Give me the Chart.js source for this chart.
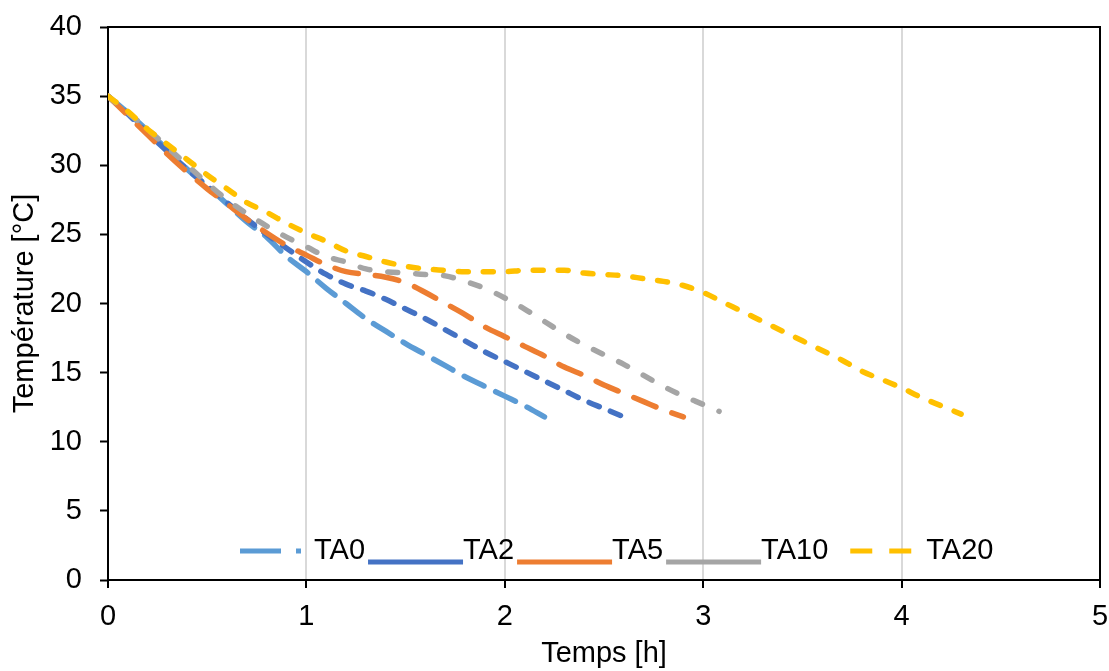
<!DOCTYPE html>
<html>
<head>
<meta charset="utf-8">
<script src="https://cdn.jsdelivr.net/npm/chart.js@4/dist/chart.umd.min.js"></script>
<style>
  html, body { margin: 0; padding: 0; background: #ffffff; }
  #wrap { width: 1109px; height: 671px; position: relative; }
</style>
</head>
<body>
<div id="wrap"><canvas id="c" width="1109" height="671"></canvas></div>
<script>
// ---- Data ----
const seriesNames = ["TA0", "TA2", "TA5", "TA10", "TA20"];

const timeTA0 = [0, 0.1, 0.2, 0.3, 0.4, 0.5, 0.6, 0.7, 0.8, 0.9, 1.0, 1.1, 1.2, 1.3, 1.4, 1.5, 1.6, 1.7, 1.8, 1.9, 2.0, 2.1, 2.2];
const tempTA0 = [35, 33.8, 32.5, 31.1, 29.7, 28.5, 27.2, 25.9, 24.8, 23.4, 22.3, 21.1, 20.0, 18.9, 18.0, 17.1, 16.3, 15.5, 14.7, 14.0, 13.3, 12.6, 11.8];

const timeTA2 = [0, 0.1, 0.2, 0.3, 0.4, 0.5, 0.6, 0.7, 0.8, 0.9, 1.0, 1.1, 1.2, 1.3, 1.4, 1.5, 1.6, 1.7, 1.8, 1.9, 2.0, 2.1, 2.2, 2.3, 2.4, 2.5, 2.6];
const tempTA2 = [35, 33.7, 32.3, 31.0, 29.7, 28.5, 27.3, 26.1, 25.0, 24.0, 23.0, 22.1, 21.4, 20.9, 20.3, 19.6, 18.9, 18.1, 17.3, 16.5, 15.8, 15.1, 14.4, 13.7, 13.0, 12.4, 11.8];

const timeTA5 = [0, 0.1, 0.2, 0.3, 0.4, 0.5, 0.6, 0.7, 0.8, 0.9, 1.0, 1.1, 1.2, 1.3, 1.4, 1.5, 1.6, 1.7, 1.8, 1.9, 2.0, 2.1, 2.2, 2.3, 2.4, 2.5, 2.6, 2.7, 2.8, 2.9];
const tempTA5 = [35, 33.6, 32.2, 30.8, 29.5, 28.3, 27.2, 26.1, 25.1, 24.2, 23.5, 22.8, 22.3, 22.1, 21.9, 21.5, 20.8, 20.0, 19.2, 18.3, 17.6, 16.9, 16.2, 15.4, 14.8, 14.1, 13.5, 12.9, 12.3, 11.8];

const timeTA10 = [0, 0.1, 0.2, 0.3, 0.4, 0.5, 0.6, 0.7, 0.8, 0.9, 1.0, 1.1, 1.2, 1.3, 1.4, 1.5, 1.6, 1.7, 1.8, 1.9, 2.0, 2.1, 2.2, 2.3, 2.4, 2.5, 2.6, 2.7, 2.8, 2.9, 3.0, 3.08];
const tempTA10 = [35, 33.8, 32.6, 31.3, 30.0, 28.7, 27.5, 26.5, 25.6, 24.8, 24.1, 23.4, 23.0, 22.5, 22.3, 22.2, 22.1, 22.0, 21.6, 21.1, 20.4, 19.6, 18.7, 17.8, 17.0, 16.3, 15.6, 14.8, 14.0, 13.3, 12.7, 12.2];

const timeTA20 = [0, 0.1, 0.2, 0.3, 0.4, 0.5, 0.6, 0.7, 0.8, 0.9, 1.0, 1.1, 1.2, 1.3, 1.4, 1.5, 1.6, 1.7, 1.8, 1.9, 2.0, 2.1, 2.2, 2.3, 2.4, 2.5, 2.6, 2.7, 2.8, 2.9, 3.0, 3.1, 3.2, 3.3, 3.4, 3.5, 3.6, 3.7, 3.8, 3.9, 4.0, 4.1, 4.2, 4.3];
const tempTA20 = [35, 33.9, 32.6, 31.5, 30.4, 29.3, 28.3, 27.3, 26.6, 25.8, 25.1, 24.5, 23.8, 23.4, 23.0, 22.7, 22.5, 22.4, 22.3, 22.3, 22.3, 22.4, 22.4, 22.4, 22.2, 22.1, 22.0, 21.8, 21.6, 21.3, 20.8, 20.1, 19.4, 18.7, 18.0, 17.3, 16.6, 15.9, 15.1, 14.5, 13.9, 13.2, 12.6, 12.0];

const xTicks = [0, 1, 2, 3, 4, 5];
const yTicks = [0, 5, 10, 15, 20, 25, 30, 35, 40];

const xTitle = "Temps [h]";
const yTitle = "Température [°C]";

// ---- Styles ----
const colors = ["#5B9BD5", "#4472C4", "#ED7D31", "#A5A5A5", "#FFC000"];
const dashes = [[22, 13], [11, 12], [24, 17], [10, 18], [10, 15]];
const times = [timeTA0, timeTA2, timeTA5, timeTA10, timeTA20];
const temps = [tempTA0, tempTA2, tempTA5, tempTA10, tempTA20];

const FONT = "'Liberation Sans', Arial, sans-serif";
const FSIZE = 29;

const datasets = seriesNames.map((name, i) => ({
  label: name,
  data: times[i].map((t, k) => ({ x: t, y: temps[i][k] })),
  borderColor: colors[i],
  backgroundColor: colors[i],
  borderWidth: 5.5,
  borderDash: dashes[i],
  borderCapStyle: 'round',
  borderJoinStyle: 'round',
  pointRadius: 0,
  fill: false,
  cubicInterpolationMode: 'monotone',
  order: seriesNames.length - i
}));

// frame (top & right border) plugin
const framePlugin = {
  id: 'frame',
  afterDraw(chart) {
    const { ctx, chartArea: a } = chart;
    ctx.save();
    ctx.strokeStyle = '#000';
    ctx.lineWidth = 2;
    ctx.beginPath();
    ctx.moveTo(a.left, a.top);
    ctx.lineTo(a.right, a.top);
    ctx.lineTo(a.right, a.bottom + 8);
    ctx.stroke();
    ctx.restore();
  }
};

// custom legend drawn inside plot area, near bottom
const legendPlugin = {
  id: 'insideLegend',
  afterDraw(chart) {
    const { ctx, chartArea: a } = chart;
    ctx.save();
    ctx.font = FSIZE + "px " + FONT;
    ctx.fillStyle = '#000';
    ctx.textBaseline = 'middle';
    ctx.textAlign = 'left';
    const sampleW = 95;
    const yMid = a.bottom - 29;
    let x = a.left + 111;
    chart.data.datasets.forEach((ds, i) => {
      ctx.save();
      ctx.strokeStyle = ds.borderColor;
      ctx.lineWidth = 5;
      ctx.beginPath();
      if (i === 0) {
        ctx.setLineDash([41, 15, 5, 100]);
        ctx.moveTo(x + 21, yMid);
        ctx.lineTo(x + 83, yMid);
      } else if (i === seriesNames.length - 1) {
        ctx.setLineDash([22, 17]);
        ctx.moveTo(x + 19, yMid);
        ctx.lineTo(x + 81, yMid);
      } else {
        ctx.setLineDash([]);
        ctx.moveTo(x, yMid + 11);
        ctx.lineTo(x + sampleW, yMid + 11);
      }
      ctx.stroke();
      ctx.restore();
      ctx.fillText(ds.label, x + sampleW, yMid);
      x += sampleW + ctx.measureText(ds.label).width + 3;
    });
    ctx.restore();
  }
};

new Chart(document.getElementById('c'), {
  type: 'line',
  data: { datasets },
  options: {
    responsive: false,
    animation: false,
    devicePixelRatio: 1,
    layout: { padding: { top: 27, right: 9, left: 0, bottom: 0 } },
    plugins: {
      legend: { display: false },
      tooltip: { enabled: false }
    },
    scales: {
      x: {
        type: 'linear',
        min: 0, max: 5,
        afterBuildTicks: (s) => { s.ticks = xTicks.map(v => ({ value: v })); },
        afterFit: (s) => { s.height = 91; s.paddingLeft = 0; s.paddingRight = 0; },
        ticks: { font: { family: FONT, size: FSIZE }, color: '#000', padding: 12, maxRotation: 0 },
        grid: {
          color: (c) => (c.tick && c.tick.value > 0 && c.tick.value < 5) ? '#D9D9D9' : 'rgba(0,0,0,0)',
          lineWidth: 2,
          tickColor: '#000',
          tickLength: 8,
          tickWidth: 2
        },
        border: { color: '#000', width: 2 },
        title: { display: true, text: xTitle, font: { family: FONT, size: FSIZE }, color: '#000', padding: { top: 0, bottom: 0 } }
      },
      y: {
        type: 'linear',
        min: 0, max: 40,
        afterBuildTicks: (s) => { s.ticks = yTicks.map(v => ({ value: v })); },
        afterFit: (s) => { s.width = 108; s.paddingTop = 0; s.paddingBottom = 0; },
        ticks: { font: { family: FONT, size: FSIZE }, color: '#000', padding: 18 },
        grid: {
          drawOnChartArea: false,
          tickColor: '#000',
          tickLength: 8,
          tickWidth: 2
        },
        border: { color: '#000', width: 2 },
        title: { display: true, text: yTitle, font: { family: FONT, size: FSIZE }, color: '#000', padding: { top: 8, bottom: 0 } }
      }
    }
  },
  plugins: [framePlugin, legendPlugin]
});
</script>
</body>
</html>
